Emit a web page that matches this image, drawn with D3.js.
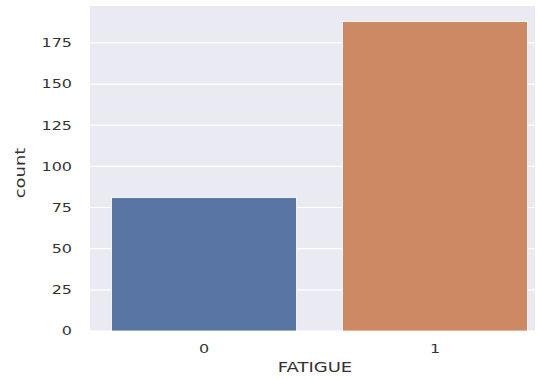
<!DOCTYPE html>
<html>
<head>
<meta charset="utf-8">
<script src="https://cdn.jsdelivr.net/npm/d3@7"></script>
<style>
  html, body { margin: 0; padding: 0; background: #fff; }
  svg { display: block; }
  text { font-family: "DejaVu Sans", sans-serif; fill: #333; }
</style>
</head>
<body>
<svg id="chart" width="539" height="380"></svg>
<script>
const categories = ["0", "1"];
const counts = [81, 188];
const yTicks = [0, 25, 50, 75, 100, 125, 150, 175];
const barColors = ["#5975a4", "#cc8963"];
const xLabel = "FATIGUE";
const yLabel = "count";

const svg = d3.select("#chart");
const plot = { left: 90, right: 535, top: 6, bottom: 331 };

const x = d3.scaleBand().domain(categories).range([88.5, 550.5]).paddingInner(0.2).paddingOuter(0.1);
const y = d3.scaleLinear().domain([0, d3.max(counts) * 1.05]).range([plot.bottom, plot.top]);

svg.append("defs").append("clipPath").attr("id", "clip")
  .append("rect").attr("x", plot.left).attr("y", plot.top)
  .attr("width", plot.right - plot.left).attr("height", plot.bottom - plot.top);

svg.append("rect").attr("x", plot.left).attr("y", plot.top)
  .attr("width", plot.right - plot.left).attr("height", plot.bottom - plot.top)
  .attr("fill", "#eaeaf2");

const g = svg.append("g").attr("clip-path", "url(#clip)");

g.selectAll("line.grid").data(yTicks).enter().append("line")
  .attr("class", "grid")
  .attr("x1", plot.left).attr("x2", plot.right)
  .attr("y1", d => y(d)).attr("y2", d => y(d))
  .attr("stroke", "#fff").attr("stroke-width", 1.2);

g.selectAll("rect.bar").data(categories).enter().append("rect")
  .attr("class", "bar")
  .attr("x", d => x(d)).attr("width", x.bandwidth())
  .attr("y", (d, i) => y(counts[i]))
  .attr("height", (d, i) => y(0) - y(counts[i]))
  .attr("fill", (d, i) => barColors[i])
  .attr("stroke", "#fff").attr("stroke-width", 0.8);

// Y tick labels
svg.selectAll("text.ytick").data(yTicks).enter().append("text")
  .attr("class", "ytick")
  .attr("transform", d => `translate(72,${y(d)}) scale(1,0.75)`)
  .attr("text-anchor", "end").attr("dy", "0.36em")
  .style("font-size", "16px")
  .text(d => d);

// X tick labels
svg.selectAll("text.xtick").data(categories).enter().append("text")
  .attr("class", "xtick")
  .attr("transform", d => `translate(${x(d) + x.bandwidth() / 2},353) scale(1,0.75)`)
  .attr("text-anchor", "middle")
  .style("font-size", "16px")
  .text(d => d);

// Axis labels
svg.append("text")
  .attr("transform", "translate(315,372) scale(1,0.76)")
  .attr("text-anchor", "middle")
  .style("font-size", "18px")
  .text(xLabel);

svg.append("text")
  .attr("transform", "translate(25,173) rotate(-90) scale(1,0.76)")
  .attr("text-anchor", "middle")
  .style("font-size", "18px")
  .text(yLabel);
</script>
</body>
</html>
